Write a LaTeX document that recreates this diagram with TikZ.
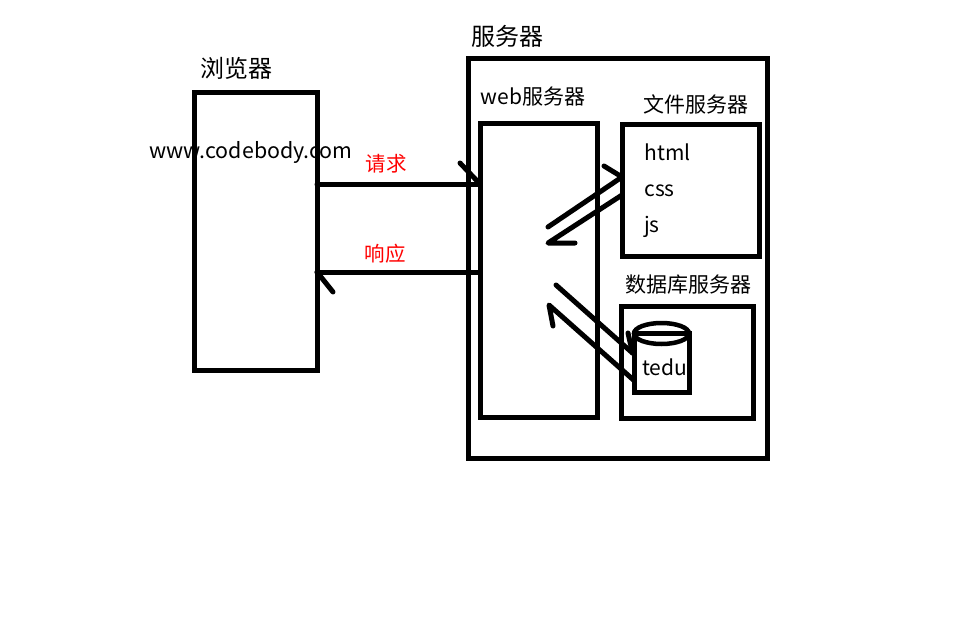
\documentclass[tikz,border=0pt]{standalone}
\usepackage{fontspec}
\setmainfont{Noto Sans CJK SC}
\usetikzlibrary{calc}
\usetikzlibrary{shapes.geometric}
\tikzset{
 boxnode/.style={draw=black, line width=5pt, rectangle, inner sep=0, outer sep=0},
 wire/.style={black, line width=5pt, line cap=round, line join=round},
 bigtext/.style={font=\fontsize{24}{24}\selectfont, inner sep=0},
 midtext/.style={font=\fontsize{21}{21}\selectfont, inner sep=0},
 redtext/.style={font=\fontsize{20.5}{21}\selectfont, text=red, inner sep=0},
}
\begin{document}
\begin{tikzpicture}[x=1pt, y=-1pt]
\useasboundingbox (0,0) rectangle (954,624);
% boxes
\node[boxnode, minimum width=123pt, minimum height=278pt] (browser) at (255.5,231) {};
\node[boxnode, minimum width=299pt, minimum height=400pt] (server) at (618,258.5) {};
\node[boxnode, minimum width=117pt, minimum height=294pt] (web) at (538.5,270) {};
\node[boxnode, minimum width=137pt, minimum height=132pt] (file) at (690.5,190) {};
\node[boxnode, minimum width=132pt, minimum height=112pt] (db) at (687,362) {};
\node[boxnode, minimum width=55pt, minimum height=59pt] (tedu) at (662,363) {};
\node[boxnode, ellipse, minimum width=55pt, minimum height=21pt, line width=4.5pt] (tedutop) at (661.5,333.5) {};
% labels
\node[bigtext] (browsertxt) at (236,68) {浏览器};
\node[bigtext] (servertxt) at (507,36) {服务器};
\node[midtext] (webtxt) at (533,97) {web服务器};
\node[midtext] (filetxt) at (696,104) {文件服务器};
\node[midtext] (dbtxt) at (688,285) {数据库服务器};
\node[midtext, font=\fontsize{21.4}{22}\selectfont] (sitetxt) at (251,152) {www.codebody.com};
\node[midtext] (htmltxt) at (667.5,152) {html};
\node[midtext] (csstxt) at (659.5,190.5) {css};
\node[midtext] (jstxt) at (652,227) {js};
\node[midtext] (tedutxt) at (664.5,367) {tedu};
\node[redtext] (reqtxt) at (386,164) {请求};
\node[redtext] (resptxt) at (385,254) {响应};
% free ends
\coordinate (reqy) at (0,184);
\coordinate (respy) at (0,272);
\coordinate (reqtip) at (460,163);
\coordinate (resptip) at (333,292);
\coordinate (fa) at (548,227);
\coordinate (fb) at (548,243);
\coordinate (fc) at (604,166);
\coordinate (fd) at (575,243);
\coordinate (da) at (556,285);
\coordinate (db1) at (549,305);
\coordinate (dc) at (628,333);
\coordinate (dd) at (553,326);
% request and response
\draw[wire] (browser.east |- reqy) -- (web.west |- reqy);
\draw[wire] (reqtip) -- (web.west |- reqy);
\draw[wire] (web.west |- respy) -- (browser.east |- respy);
\draw[wire] (resptip) -- (browser.east |- respy);
% web to file
\draw[wire] (fa) -- ($(file.west)+(0,-13)$);
\draw[wire] (fc) -- ($(file.west)+(0,-13)$);
\draw[wire] ($(file.west)+(0,5)$) -- (fb) -- (fd);
% web to database
\draw[wire] (da) -- ($(tedu.west)+(-2,-10)$);
\draw[wire] (dc) -- ($(tedu.west)+(-2,-10)$);
\draw[wire] ($(tedu.west)+(-1,17)$) -- (db1) -- (dd);
\end{tikzpicture}
\end{document}
